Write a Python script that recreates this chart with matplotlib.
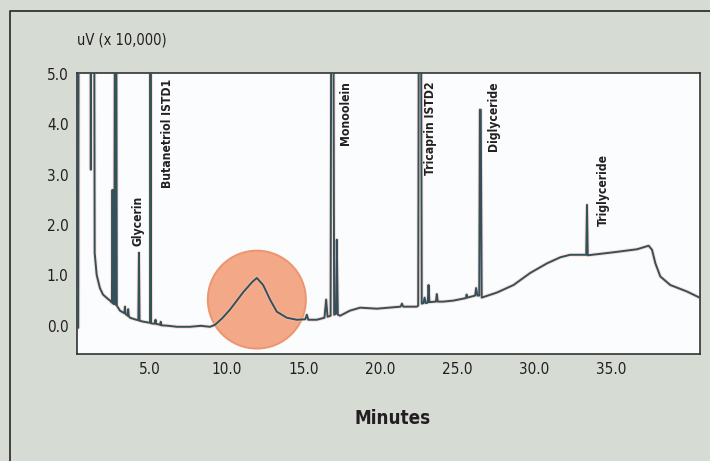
import os
import matplotlib
matplotlib.use("Agg")
import matplotlib.pyplot as plt
import matplotlib.font_manager as fm
from matplotlib.font_manager import FontProperties
from matplotlib.patches import Ellipse
from matplotlib.lines import Line2D

# ---- data ----
time_min = [0.25, 0.33, 0.36, 1.12, 1.15, 1.18, 1.36, 1.40, 1.53, 1.74, 1.94, 2.20, 2.40,
            2.52, 2.56, 2.60, 2.68, 2.72, 2.76, 2.80, 2.84, 3.05, 3.33, 3.37, 3.42, 3.55,
            3.58, 3.62, 3.70, 4.00, 4.24, 4.28, 4.32, 4.60, 5.00, 5.03, 5.07, 5.30, 5.36,
            5.40, 5.65, 5.70, 5.74, 6.20, 6.76, 7.60, 8.30, 8.90, 9.23, 9.70, 10.20, 10.60,
            11.07, 11.65, 11.95, 12.36, 12.81, 13.25, 13.90, 14.55, 15.10, 15.20, 15.30,
            15.85, 16.35, 16.46, 16.55, 16.75, 16.80, 16.92, 16.98, 17.10, 17.15, 17.22,
            17.37, 18.00, 18.67, 19.76, 21.30, 21.39, 21.48, 22.36, 22.45, 22.50, 22.62,
            22.68, 22.80, 22.86, 22.95, 23.07, 23.12, 23.18, 23.60, 23.66, 23.72, 24.07,
            24.73, 25.55, 25.60, 25.65, 26.15, 26.22, 26.30, 26.42, 26.46, 26.52, 26.58,
            27.57, 28.65, 29.74, 30.83, 31.69, 32.34, 33.38, 33.43, 33.48, 35.16, 36.69,
            37.44, 37.66, 37.88, 38.20, 38.85, 39.94, 40.75]
signal = [-0.04, -0.04, 8.0, 8.0, 3.1, 8.0, 8.0, 1.45, 1.01, 0.75, 0.62, 0.55, 0.50,
          0.46, 2.70, 0.44, 0.43, 8.0, 0.42, 8.0, 0.40, 0.30, 0.25, 0.38, 0.23, 0.20,
          0.33, 0.19, 0.16, 0.13, 0.11, 1.45, 0.10, 0.08, 0.06, 8.0, 0.05, 0.04, 0.12,
          0.04, 0.02, 0.08, 0.01, 0.00, -0.02, -0.02, 0.00, -0.02, 0.02, 0.15, 0.32, 0.48,
          0.67, 0.87, 0.95, 0.81, 0.52, 0.28, 0.16, 0.12, 0.13, 0.22, 0.12,
          0.12, 0.16, 0.52, 0.18, 0.20, 8.0, 8.0, 0.22, 0.24, 1.71, 0.22,
          0.20, 0.30, 0.36, 0.34, 0.38, 0.44, 0.38, 0.38, 0.40, 8.0, 8.0,
          0.44, 0.45, 0.56, 0.45, 0.46, 0.81, 0.47, 0.48, 0.63, 0.48, 0.48,
          0.50, 0.55, 0.62, 0.56, 0.60, 0.75, 0.60, 0.60, 4.29, 4.29, 0.56,
          0.66, 0.81, 1.05, 1.24, 1.36, 1.41, 1.41, 2.40, 1.40, 1.46, 1.52,
          1.59, 1.51, 1.24, 0.98, 0.81, 0.68, 0.56]

peak_names = ["Glycerin", "Butanetriol ISTD1", "Monoolein", "Tricaprin ISTD2",
              "Diglyceride", "Triglyceride"]
label_x = [4.22, 6.17, 17.69, 23.23, 27.33, 34.49]
label_y = [1.59, 4.90, 4.86, 4.86, 4.86, 3.41]
label_va = ["bottom", "top", "top", "top", "top", "top"]

x_ticks = [5, 10, 15, 20, 25, 30, 35]
x_tick_labels = ["5.0", "10.0", "15.0", "20.0", "25.0", "30.0", "35.0"]
y_ticks = [0, 1, 2, 3, 4, 5]
y_tick_labels = ["0.0", "1.0", "2.0", "3.0", "4.0", "5.0"]

highlight_center = (11.95, 0.52)

# ---- fonts: prefer a narrow / condensed sans ----
all_files = set(f.fname for f in fm.fontManager.ttflist)
try:
    all_files |= set(fm.findSystemFonts())
except Exception:
    pass
all_files = sorted(all_files)


def find_font(candidates):
    for key in candidates:
        for fn in all_files:
            if os.path.basename(fn).lower().startswith(key):
                return fn
    return None


reg_file = find_font(["liberationsansnarrow-regular", "dejavusanscondensed.",
                      "robotocondensed-regular", "notosans-condensed.",
                      "opensans-condensedregular", "opensanscondensed-regular"])
bold_file = find_font(["liberationsansnarrow-bold.", "dejavusanscondensed-bold.",
                       "robotocondensed-bold.", "notosans-condensedbold.",
                       "opensans-condensedbold", "opensanscondensed-bold."])


def fp(size, bold=False):
    fn = bold_file if bold else reg_file
    if fn:
        return FontProperties(fname=fn, size=size)
    return FontProperties(family="DejaVu Sans", stretch="condensed",
                          weight="bold" if bold else "normal", size=size)


# ---- style ----
BG = "#d6dbd4"
TXT = "#231f20"
TRACE = "#34505b"

fig = plt.figure(figsize=(7.10, 4.61), dpi=100, facecolor=BG)
ax = fig.add_axes([77 / 710, 1 - 354 / 461, (699.5 - 77) / 710, (354 - 73) / 461])
ax.set_facecolor("#fbfcfd")

ax.set_xlim(0.25, 40.75)
ax.set_ylim(-0.56, 5.02)

circ = Ellipse(highlight_center, width=98 / 15.36, height=98 / 50.4,
               facecolor="#f3a888", edgecolor="#ec956f", linewidth=1.4, zorder=1)
ax.add_patch(circ)

ax.plot(time_min, signal, color="#f6c4b0", linewidth=2.8, alpha=0.5, zorder=2,
        solid_joinstyle="round")
ax.plot(time_min, signal, color=TRACE, linewidth=1.4, zorder=3, solid_joinstyle="round")

for name, lx, ly, va in zip(peak_names, label_x, label_y, label_va):
    ax.text(lx, ly, name, rotation=90, ha="center", va=va, fontproperties=fp(8.7, True),
            color=TXT, zorder=4)

ax.set_xticks(x_ticks)
ax.set_xticklabels(x_tick_labels)
ax.set_yticks(y_ticks)
ax.set_yticklabels(y_tick_labels)
ax.tick_params(axis="both", length=0, colors=TXT)
ax.tick_params(axis="x", pad=6)
ax.tick_params(axis="y", pad=6)
for lab in ax.get_xticklabels() + ax.get_yticklabels():
    lab.set_fontproperties(fp(11))
for s in ax.spines.values():
    s.set_color("#333333")
    s.set_linewidth(1.2)

fig.text(77 / 710, 1 - 40 / 461, "uV (x 10,000)", ha="left", va="center",
         fontproperties=fp(10.5), color=TXT)
fig.text(392.5 / 710, 1 - 419 / 461, "Minutes", ha="center", va="center",
         fontproperties=fp(13.5, True), color=TXT)

fig.add_artist(Line2D([10 / 710, 10 / 710, 1.0], [0.0, 1 - 11 / 461, 1 - 11 / 461],
                      transform=fig.transFigure, color="#333333", linewidth=1.3))

fig.savefig("out.png", dpi=100, facecolor=BG)
